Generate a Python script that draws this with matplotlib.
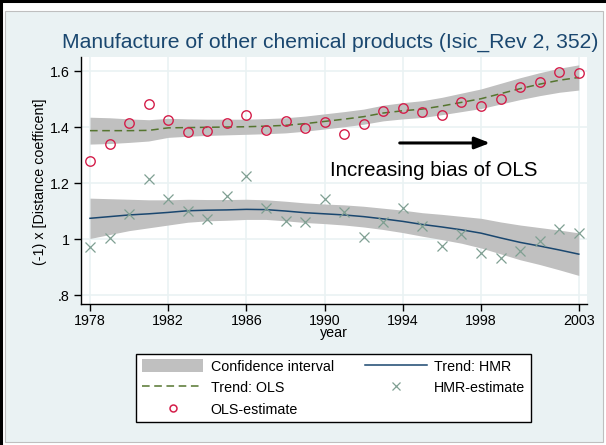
import matplotlib
matplotlib.use("Agg")
import matplotlib.pyplot as plt
from matplotlib.patches import Rectangle, Patch
from matplotlib.lines import Line2D

plt.rcParams['font.family'] = ['Liberation Sans', 'DejaVu Sans']

years = [1978, 1979, 1980, 1981, 1982, 1983, 1984, 1985, 1986, 1987, 1988, 1989, 1990,
         1991, 1992, 1993, 1994, 1995, 1996, 1997, 1998, 1999, 2000, 2001, 2002, 2003]

ols_est = [1.280, 1.338, 1.414, 1.483, 1.424, 1.383, 1.386, 1.415, 1.444, 1.390, 1.421, 1.398, 1.419,
           1.374, 1.412, 1.458, 1.467, 1.452, 1.443, 1.490, 1.476, 1.499, 1.542, 1.562, 1.598, 1.594]
hmr_est = [0.973, 1.005, 1.089, 1.214, 1.143, 1.100, 1.071, 1.155, 1.226, 1.110, 1.064, 1.060, 1.143,
           1.098, 1.007, 1.060, 1.111, 1.046, 0.975, 1.018, 0.949, 0.931, 0.957, 0.993, 1.037, 1.021]

ols_trend = [1.387, 1.387, 1.387, 1.388, 1.397, 1.398, 1.399, 1.400, 1.401, 1.403, 1.406, 1.412, 1.420,
             1.428, 1.437, 1.450, 1.458, 1.464, 1.475, 1.488, 1.501, 1.519, 1.537, 1.553, 1.567, 1.577]
ols_half = [0.048, 0.046, 0.042, 0.038, 0.034, 0.031, 0.029, 0.028, 0.027, 0.027, 0.027, 0.027, 0.027,
            0.027, 0.027, 0.028, 0.029, 0.030, 0.031, 0.033, 0.035, 0.037, 0.039, 0.041, 0.043, 0.045]

hmr_trend = [1.074, 1.080, 1.086, 1.090, 1.095, 1.101, 1.103, 1.104, 1.106, 1.105, 1.100, 1.094, 1.090,
             1.086, 1.080, 1.072, 1.063, 1.052, 1.043, 1.033, 1.021, 1.004, 0.988, 0.975, 0.961, 0.946]
hmr_half = [0.072, 0.064, 0.056, 0.050, 0.045, 0.041, 0.038, 0.037, 0.036, 0.035, 0.035, 0.035, 0.035,
            0.036, 0.037, 0.038, 0.040, 0.042, 0.045, 0.048, 0.053, 0.057, 0.062, 0.066, 0.071, 0.076]

xticks = [1978, 1982, 1986, 1990, 1994, 1998, 2003]
yticks = [0.8, 1.0, 1.2, 1.4, 1.6]
ytick_labels = [".8", "1", "1.2", "1.4", "1.6"]

title = "Manufacture of other chemical products (Isic_Rev 2, 352)"
ylabel = "(-1) x [Distance coefficent]"
xlabel = "year"
annot = "Increasing bias of OLS"

BG = "#EAF2F3"
TITLE_C = "#1A476F"
CI_C = "#C0C0C0"
HMR_C = "#1A476F"
OLS_C = "#55752F"
CIRC_C = "#D41E4A"
X_C = "#7F9F92"
FS = 10.3

W, H = 606, 445
fig = plt.figure(figsize=(W / 100, H / 100), dpi=100, facecolor="white")

# background panel
fig.patches.append(Rectangle((5 / W, 1 - 442 / H), 598 / W, 431 / H, transform=fig.transFigure,
                             facecolor=BG, edgecolor="#BFBFBF", linewidth=0.8, zorder=-5))
# black frame lines top & left
fig.add_artist(Line2D([0, 1], [1 - 1 / H, 1 - 1 / H], transform=fig.transFigure, color="black", lw=2.2))
fig.add_artist(Line2D([1 / W, 1 / W], [0, 1], transform=fig.transFigure, color="black", lw=2.2))

ax = fig.add_axes([81 / W, 1 - 304 / H, (587 - 81) / W, (304 - 57) / H])
ax.set_zorder(1)
ax.set_facecolor("white")
ax.set_xlim(1977.54, 2003.42)
ax.set_ylim(0.768, 1.65)

for s in ["top", "right"]:
    ax.spines[s].set_visible(False)
for s in ["left", "bottom"]:
    ax.spines[s].set_color("black")
    ax.spines[s].set_linewidth(1.0)

ax.set_xticks(xticks)
ax.set_yticks(yticks)
ax.set_yticklabels(ytick_labels)
ax.tick_params(axis="both", direction="out", length=5, width=1.0, labelsize=FS, colors="black")
ax.tick_params(axis="y", pad=3)
ax.tick_params(axis="x", pad=2)
ax.grid(True, color=BG, linewidth=1.2)
ax.set_axisbelow(True)

ols_lo = [t - h for t, h in zip(ols_trend, ols_half)]
ols_hi = [t + h for t, h in zip(ols_trend, ols_half)]
hmr_lo = [t - h for t, h in zip(hmr_trend, hmr_half)]
hmr_hi = [t + h for t, h in zip(hmr_trend, hmr_half)]

ax.fill_between(years, ols_lo, ols_hi, color=CI_C, linewidth=0, zorder=2)
ax.fill_between(years, hmr_lo, hmr_hi, color=CI_C, linewidth=0, zorder=2)
ax.plot(years, hmr_trend, color=HMR_C, lw=1.1, zorder=3)
ax.plot(years, ols_trend, color=OLS_C, lw=1.1, linestyle=(0, (5, 3)), zorder=3)
ax.plot(years, hmr_est, linestyle="none", marker="x", markersize=6.5, markeredgewidth=0.9,
        color=X_C, zorder=4)
ax.plot(years, ols_est, linestyle="none", marker="o", markersize=6.8, markerfacecolor="none",
        markeredgewidth=1.0, markeredgecolor=CIRC_C, zorder=5)

ax.annotate("", xy=(1998.6, 1.343), xytext=(1993.7, 1.343),
            arrowprops=dict(arrowstyle="-|>,head_length=0.9,head_width=0.35", color="black", lw=2.2),
            zorder=6)
ax.text(1990.3, 1.243, annot, fontsize=14.8, color="black", ha="left", va="center", zorder=6)

fig.text(330 / W, 1 - 42 / H, title, fontsize=15.2, color=TITLE_C, ha="center", va="center")
fig.text(40 / W, 1 - 182 / H, ylabel, fontsize=FS, rotation=90, ha="center", va="center", color="black")
fig.text(334 / W, 1 - 333 / H, xlabel, fontsize=FS, ha="center", va="center", color="black")

handles = [Patch(facecolor=CI_C, edgecolor="none"),
           Line2D([], [], color=OLS_C, lw=1.1, linestyle=(0, (5, 3))),
           Line2D([], [], linestyle="none", marker="o", markersize=5, markerfacecolor="none",
                  markeredgewidth=1.1, markeredgecolor=CIRC_C),
           Line2D([], [], color=HMR_C, lw=1.1),
           Line2D([], [], linestyle="none", marker="x", markersize=6, markeredgewidth=0.9, color=X_C)]
labels = ["Confidence interval", "Trend: OLS", "OLS-estimate", "Trend: HMR", "HMR-estimate"]
leg = fig.legend(handles, labels, ncol=2, loc="center", bbox_to_anchor=(333.5 / W, 1 - 388 / H),
                 fontsize=FS, frameon=True, fancybox=False, edgecolor="black", facecolor="white",
                 framealpha=1.0, handlelength=4.3, handleheight=1.0, labelspacing=0.5,
                 columnspacing=2.2, handletextpad=0.5, borderpad=0.4)
leg.get_frame().set_linewidth(1.0)
leg.set_zorder(5)

fig.savefig("out.png", dpi=100, facecolor="white")
